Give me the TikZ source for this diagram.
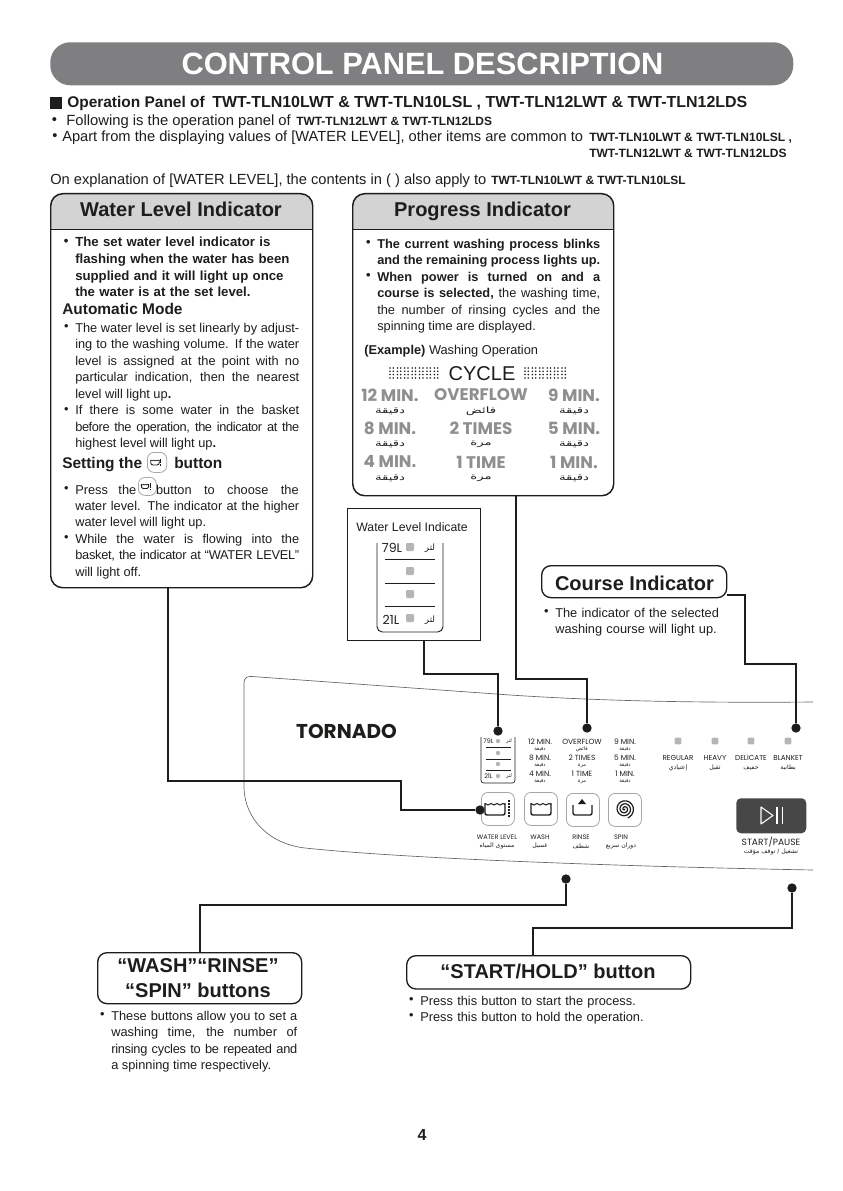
\documentclass[tikz,border=0pt]{standalone}
\usepackage{fontspec}
\usepackage{graphicx}
\usetikzlibrary{calc,arrows.meta}
\setmainfont{Liberation Sans}
\newfontfamily\arabicfont[Script=Arabic]{DejaVu Sans}
\newfontfamily\dispfont{Poppins}
\TeXXeTstate=1
\definecolor{bargray}{HTML}{7F7F81}
\definecolor{headgray}{HTML}{D3D3D4}
\definecolor{dispgray}{HTML}{8F8F8F}
\definecolor{ledgray}{HTML}{B5B5B5}
\definecolor{inkblack}{HTML}{1D1D1B}
\newcommand{\fsz}[1]{\fontsize{#1}{12.4}\selectfont}
\newcommand{\ar}[1]{{\arabicfont\beginR #1\endR}}
\newcommand{\arw}[1]{\scalebox{1.5}[1]{\ar{#1}}}
\newcommand{\bul}{\leavevmode\llap{\raisebox{1.2pt}{\textbullet}\hspace{5pt}}}
\newcommand{\tight}[2]{{\addfontfeature{LetterSpace=#1}#2}}
\newcommand{\basinpath}{%
  \draw[inkblack, line width=0.8pt*\pgfkeysvalueof{/tikz/iconw}] (-10,-4.5) -- (-7,-3) -- (-4,-4.5) -- (-1,-3) -- (2,-4.5) -- (5,-3) -- (8,-4.5) -- (10,-3.5);
  \draw[inkblack, line width=1.1pt*\pgfkeysvalueof{/tikz/iconw}, rounded corners=1.5pt] (-10,-5) -- (-10,7) -- (10,7) -- (10,-5);
}
\tikzset{
  lbl/.style={inner sep=0pt, anchor=base west, font=\fsz{9.6}, text=inkblack},
  para/.style={lbl, text width=#1, align=justify},
  rawpara/.style={lbl, text width=#1, align=left},
  panelbox/.style={draw=inkblack, line width=1.1pt, rounded corners=9pt, anchor=north west, inner sep=0pt},
  headbox/.style={draw=inkblack, line width=1pt, rounded corners=7pt, anchor=north west, inner sep=0pt},
  headtxt/.style={inner sep=0pt, anchor=base, font=\bfseries\fontsize{15}{18}\selectfont, text=inkblack},
  subhead/.style={lbl, font=\bfseries\fsz{11.6}},
  wire/.style={draw=inkblack, line width=1.5pt},
  wiredot/.style={circle, fill=inkblack, inner sep=0pt, minimum size=7pt},
  disp/.style={inner sep=0pt, font=\dispfont\bfseries\fontsize{12.6}{14}\selectfont, text=dispgray},
  disparab/.style={inner sep=0pt, font=\fontsize{6.6}{8}\selectfont, text=inkblack},
  mini/.style={inner sep=0pt, font=\dispfont\fontsize{#1}{6}\selectfont, text=inkblack},
  miniarab/.style={inner sep=0pt, font=\fontsize{#1}{5}\selectfont, text=inkblack},
  led/.style={fill=ledgray, inner sep=0pt, minimum size=#1, rounded corners=0.8pt},
  button/.style={draw=gray!70, line width=0.6pt, rounded corners=5pt, anchor=north west, inner sep=0pt},
  basin/.pic={\basinpath},
  levelbasin/.pic={
    \basinpath
    \foreach \ly in {-8,-5,...,7} {
      \fill[inkblack] (12.5,\ly) rectangle (15,\ly+1.6);
    }
  },
  iconw/.initial=1,
}
\begin{document}
\begin{tikzpicture}[x=0.75pt, y=-0.75pt]
\useasboundingbox (0,0) rectangle (842,1191);

% ----- title -----
\node[fill=bargray, rounded corners=15pt, anchor=north west, inner sep=0pt, minimum width=557.25pt, minimum height=32.25pt] (titlebar) at (50,42) {};
\node[inner sep=0pt, font=\bfseries\fontsize{23.1}{26}\selectfont, text=white] (titletxt) at (422.5,64) {CONTROL PANEL DESCRIPTION};

% ----- intro lines -----
\node[fill=inkblack, anchor=north west, inner sep=0pt, minimum size=9pt] (opmark) at (50,97) {};
\node[lbl, font=\bfseries\fsz{11.6}] (optxt) at (67,108) {Operation Panel of};
\node[lbl, font=\bfseries\fsz{11.98}] (opmodels) at (212,108) {TWT-TLN10LWT \& TWT-TLN10LSL , TWT-TLN12LWT \& TWT-TLN12LDS};
\node[lbl, font=\fsz{11.1}] (introa) at (66,126) {\llap{\raisebox{1.2pt}{\textbullet}\hspace{7pt}}Following is the operation panel of};
\node[lbl, font=\bfseries\fsz{8.96}] (introab) at (296,126) {TWT-TLN12LWT \& TWT-TLN12LDS};
\node[lbl, font=\fsz{11}] (introb) at (62,142) {\llap{\raisebox{1.2pt}{\textbullet}\hspace{3.6pt}}Apart from the displaying values of [WATER LEVEL], other items are common to};
\node[lbl, font=\bfseries\fsz{9.03}] (introbb) at (589,142) {TWT-TLN10LWT \& TWT-TLN10LSL ,};
\node[lbl, font=\bfseries\fsz{9.03}] (introbc) at (589,158) {TWT-TLN12LWT \& TWT-TLN12LDS};
\node[lbl, font=\fsz{11}] (onexpl) at (50,185) {On explanation of [WATER LEVEL], the contents in ( ) also apply to};
\node[lbl, font=\bfseries\fsz{8.96}] (onexplb) at (491,185) {TWT-TLN10LWT \& TWT-TLN10LSL};

% ----- Water Level Indicator box -----
\fill[headgray] (50,229) [rounded corners=9pt] -- (50,193) -- (312,193) [sharp corners] -- (312,229) -- cycle;
\node[panelbox, minimum width=196.5pt, minimum height=295.5pt] (levelbox) at (50,193) {};
\draw[inkblack, line width=0.7pt] (50,229) -- (312,229);
\node[headtxt] (levelhead) at (181,217) {Water Level Indicator};

\node[rawpara=180pt, font=\bfseries\fsz{9.9}] (levela) at (75,247) {\bul The set water level indicator is\\ flashing when the water has been\\ supplied and it will light up once\\ the water is at the set level.};
\node[subhead] (automode) at (62,314) {Automatic Mode};
\node[para=168pt] (levelb) at (75,332) {\bul The water level is set linearly by adjust-\linebreak
ing to the washing volume. If the water\linebreak
level is assigned at the point with no\linebreak
particular indication, then the nearest\linebreak
level will light up\textbf{.}\par
\bul If there is some water in the basket\linebreak
\tight{-3}{before the operation, the indicator at the}\linebreak
highest level will light up\textbf{.}};

\node[subhead] (settxt) at (62,468) {Setting the};
\node[button, minimum width=14.5pt, minimum height=15pt] (setbtn) at (147,452) {};
\pic[scale=0.42, iconw=0.6] at (155,462) {levelbasin};
\node[subhead] (settxtb) at (174,468) {button};

\node[lbl] (pressa) at (75,494) {\bul\hbox to 45.75pt{Press\hfil the}};
\node[button, minimum width=13.5pt, minimum height=13.5pt] (pressbtn) at (138,477) {};
\pic[scale=0.36, iconw=0.6] at (145,486) {levelbasin};
\node[lbl, anchor=base east] (pressb) at (299,494) {\hbox to 107pt{button\hfil to\hfil choose\hfil the}};
\node[para=168pt] (levelc) at (75,510) {water level. The indicator at the higher\linebreak
water level will light up.\par
\bul While the water is flowing into the\linebreak
\tight{-2}{basket, the indicator at ``WATER LEVEL''}\linebreak
will light off.};

% ----- Progress Indicator box -----
\fill[headgray] (352,229) [rounded corners=9pt] -- (352,193) -- (613,193) [sharp corners] -- (613,229) -- cycle;
\node[panelbox, minimum width=195.75pt, minimum height=226.5pt] (progbox) at (352,193) {};
\draw[inkblack, line width=0.7pt] (352,229) -- (613,229);
\node[headtxt] (proghead) at (482.5,217) {Progress Indicator};

\node[para=167.25pt, font=\bfseries\fsz{9.6}] (proga) at (377,248) {\bul The current washing process blinks\linebreak
and the remaining process lights up.\par
\bul When power is turned on and a\linebreak
\textbf{course is selected,} {\mdseries the washing time,}\linebreak
{\mdseries the number of rinsing cycles and the}\linebreak
{\mdseries spinning time are displayed.}};
\node[lbl] (exampletxt) at (364,354) {\textbf{(Example)} Washing Operation};
\node[inner sep=0pt, font=\fontsize{15}{18}\selectfont, text=inkblack] (cycletxt) at (482,374) {CYCLE};
\foreach \dx in {390,397.4,...,440} \foreach \dy in {368,371.3,374.6,378} {
  \fill[inkblack] (\dx,\dy) circle (0.65pt);
  \fill[inkblack] (\dx+3.3,\dy) circle (0.65pt);
}
\foreach \dx in {525,532.4,...,568} \foreach \dy in {368,371.3,374.6,378} {
  \fill[inkblack] (\dx,\dy) circle (0.65pt);
  \fill[inkblack] (\dx+3.3,\dy) circle (0.65pt);
}
\foreach \txt/\arb/\cx/\cy [count=\i] in {12 MIN./دقيقة/390/395, OVERFLOW/فائض/481/395, 9 MIN./دقيقة/574/395,
  8 MIN./دقيقة/390/428, 2 TIMES/مرة/481/428, 5 MIN./دقيقة/574/428,
  4 MIN./دقيقة/390/462, 1 TIME/مرة/481/462, 1 MIN./دقيقة/574/462} {
  \node[disp] (disp\i) at (\cx,\cy) {\txt};
  \node[disparab] (disparab\i) at (\cx,\cy+16) {\arw{\arb}};
}

% ----- Water Level Indicate box -----
\node[draw=inkblack, line width=0.8pt, anchor=north west, inner sep=0pt, minimum width=99.5pt, minimum height=99pt] (indicbox) at (347,508) {};
\node[inner sep=0pt, font=\fontsize{9.2}{11}\selectfont, text=inkblack] (indictxt) at (412,527) {Water Level Indicate};
\draw[inkblack, line width=0.7pt, rounded corners=4pt] (377,543) -- (377,632) -- (443,632) -- (443,543);
\foreach \ly in {559.5,583,606.5} \draw[inkblack, line width=0.6pt] (385,\ly) -- (435,\ly);
\foreach \ly in {547,571,594,618} \node[led=6pt] (wled\ly) at (410,\ly) {};
\node[inner sep=0pt, font=\dispfont\fontsize{9.4}{11}\selectfont, text=inkblack] (wl79) at (392,548) {79L};
\node[inner sep=0pt, font=\dispfont\fontsize{9.4}{11}\selectfont, text=inkblack] (wl21) at (391,620) {21L};
\node[inner sep=0pt, font=\fontsize{6.5}{8}\selectfont, text=inkblack] (wlar79) at (430,548) {\ar{لتر}};
\node[inner sep=0pt, font=\fontsize{6.5}{8}\selectfont, text=inkblack] (wlar21) at (430,620) {\ar{لتر}};

% ----- Course Indicator -----
\node[headbox, minimum width=138.75pt, minimum height=24pt] (coursebox) at (541,565) {};
\node[headtxt] (coursehead) at (634.5,590) {Course Indicator};
\node[rawpara=140pt] (coursetxt) at (555,617) {\bul The indicator of the selected\\ washing course will light up.};

% ----- control panel -----
\draw[gray!80!black, line width=0.5pt] (813,702) .. controls (700,703) and (600,701) .. (510,695) -- (252,676.5)
  .. controls (247,676) and (244,678) .. (244,683) -- (244,788)
  .. controls (245,820) and (270,844) .. (305,848) .. controls (400,858) and (600,866) .. (813,870);
\node[inner sep=0pt, font=\dispfont\bfseries\fontsize{15}{16}\selectfont, text=inkblack] (logo) at (346.5,731) {TORNADO};

\draw[inkblack, line width=0.5pt, rounded corners=2pt] (481,737) -- (481,783) -- (515,783) -- (515,737);
\foreach \ly in {747.5,759,770.5} \draw[inkblack, line width=0.4pt] (486,\ly) -- (511,\ly);
\foreach \ly in {741,753,764,776} \node[led=3pt] (mled\ly) at (498,\ly) {};
\node[mini=4.8] (m79) at (488.5,741) {79L};
\node[mini=4.8] (m21) at (488.5,776) {21L};
\node[miniarab=3.8] (mar79) at (509,741) {\ar{لتر}};
\node[miniarab=3.8] (mar21) at (509,776) {\ar{لتر}};

\foreach \txt/\arb/\cx/\cy [count=\i] in {12 MIN./دقيقة/540/742, OVERFLOW/فائض/582/742, 9 MIN./دقيقة/625/742,
  8 MIN./دقيقة/540/758, 2 TIMES/مرة/582/758, 5 MIN./دقيقة/625/758,
  4 MIN./دقيقة/540/774, 1 TIME/مرة/582/774, 1 MIN./دقيقة/625/774} {
  \node[mini=5.6] (pdisp\i) at (\cx,\cy) {\txt};
  \node[miniarab=3.8] (pdisparab\i) at (\cx,\cy+7.5) {\ar{\arb}};
}
\foreach \txt/\arb/\cx [count=\i] in {REGULAR/إعتيادي/678, HEAVY/ثقيل/715, DELICATE/خفيف/751, BLANKET/بطانية/788} {
  \node[led=5pt] (cled\i) at (\cx,741) {};
  \node[mini=5.4] (cname\i) at (\cx,758) {\txt};
  \node[miniarab=4.6] (carab\i) at (\cx,768) {\ar{\arb}};
}

\node[button, minimum width=24.75pt, minimum height=24.75pt] (btnlevel) at (481,792) {};
\node[button, minimum width=24.75pt, minimum height=24.75pt] (btnwash) at (524,792) {};
\node[button, minimum width=24.75pt, minimum height=24.75pt] (btnrinse) at (566,793) {};
\node[button, minimum width=24.75pt, minimum height=24.75pt] (btnspin) at (608,793) {};
\pic at (495,808) {levelbasin};
\pic at (541,808) {basin};
\draw[inkblack, line width=1pt, rounded corners=1.5pt] (573,805) -- (573,815) -- (592,815) -- (592,805);
\fill[inkblack] (582,799) -- (586,804) -- (578,804) -- cycle;
\draw[inkblack, line width=0.9pt] plot[smooth, domain=0:1150, samples=70] ({624.5+\x/1150*9.5*cos(\x)},{809+\x/1150*9.5*sin(\x)});
\foreach \txt/\arb/\cx [count=\i] in {WATER LEVEL/مستوى المياه/497, WASH/غسيل/540, RINSE/شطف/581, SPIN/دوران سريع/621} {
  \node[mini=4.9] (bname\i) at (\cx,837) {\txt};
  \node[miniarab=4.6] (barab\i) at (\cx,846) {\ar{\arb}};
}

\node[fill=black!72, rounded corners=3.5pt, anchor=north west, inner sep=0pt, minimum width=52.5pt, minimum height=26.25pt] (btnstart) at (736,798) {};
\draw[white, line width=0.8pt, line join=round] (761,807) -- (773,815.5) -- (761,824) -- cycle;
\draw[white, line width=1.1pt] (777,807) -- (777,824);
\draw[white, line width=1.1pt] (782.5,807) -- (782.5,824);
\node[mini=6.8] (startname) at (771,842) {START/PAUSE};
\node[miniarab=4.6] (startarab) at (771,852) {\ar{تشغيل / توقف مؤقت}};

% ----- button boxes -----
\node[headbox, minimum width=153pt, minimum height=38.25pt] (washbox) at (97,952) {};
\node[inner sep=0pt, font=\bfseries\fontsize{15}{18.2}\selectfont, align=center, text=inkblack] (washhead) at (198,978) {``WASH''``RINSE''\\ ``SPIN'' buttons};
\node[para=139.5pt] (washtxt) at (111,1020) {\bul These buttons allow you to set a\linebreak
washing time, the number of\linebreak
\tight{-2}{rinsing cycles to be repeated and}\linebreak
a spinning time respectively.};
\node[headbox, minimum width=213pt, minimum height=25pt] (startbox) at (406,955) {};
\node[headtxt] (starthead) at (548,978) {``START/HOLD'' button};
\node[rawpara=200pt] (starttxt) at (420,1005) {\bul Press this button to start the process.\\ \bul Press this button to hold the operation.};

\node[inner sep=0pt, font=\bfseries\fontsize{12}{14}\selectfont, text=inkblack] (pagenum) at (422,1135) {4};

% ----- connectors -----
\node[wiredot] (dotlevelbtn) at (480,810) {};
\node[wiredot] (dotindic) at (498,731) {};
\node[wiredot] (dotprog) at (587,728) {};
\node[wiredot] (dotcourse) at (796,728) {};
\node[wiredot] (dotbuttons) at (566,879) {};
\node[wiredot] (dotstart) at (792,888) {};
\coordinate (washbend) at (200,905);
\coordinate (startbend) at (533,928);

\draw[wire] ($(levelbox.south)+(-14,0)$) |- (401,781) |- (dotlevelbtn);
\draw[wire] ($(indicbox.south)+(10,0)$) |- (498,674) -- (dotindic);
\draw[wire] ($(progbox.south)+(33,0)$) |- (587,679) -- (dotprog);
\draw[wire] ($(coursebox.east)+(0,13)$) -| (745,664) -| (dotcourse);
\draw[wire] (dotbuttons) |- (washbend) -- (washbend |- washbox.north);
\draw[wire] (dotstart) |- (startbend) -- (startbend |- startbox.north);

\end{tikzpicture}
\end{document}
